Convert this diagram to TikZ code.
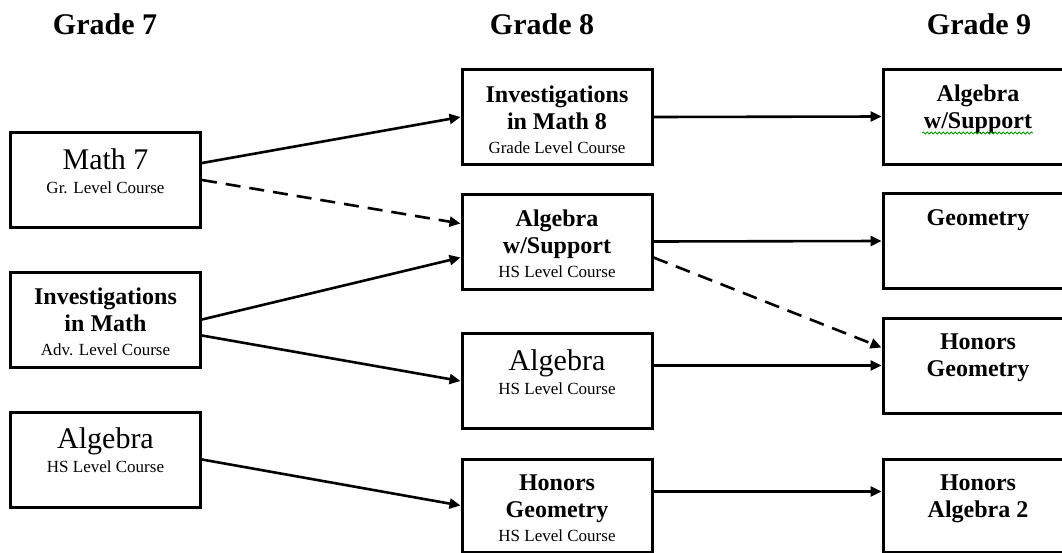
\documentclass[tikz,border=0pt]{standalone}
\usepackage{fontspec}
\setmainfont{Liberation Serif}
\usepackage{tikz}
\usetikzlibrary{arrows.meta,decorations.pathmorphing}
\tikzset{>={Triangle[length=11pt,width=10pt]}}
\tikzset{course/.style={draw,line width=3pt,inner sep=0pt},
  link/.style={->,line width=2.6pt},
  maybe/.style={link,dash pattern=on 15pt off 9pt},
  grade/.style={anchor=base,font=\fontsize{30}{30}\selectfont\bfseries}}
% box text: fixed size, text at the top
\newcommand{\crsbox}[2][95]{\parbox[c][#1pt][t]{190pt}{\centering\vspace*{16pt}#2}}
\newcommand{\bname}[1]{{\fontsize{24}{27}\selectfont\bfseries #1\par}}
\newcommand{\rname}[1]{{\fontsize{30}{30}\selectfont #1\par}}
\newcommand{\lvl}[1]{{\fontsize{17}{24}\selectfont #1\par}}

\begin{document}
\begin{tikzpicture}[x=1pt,y=-1pt]
\useasboundingbox (0,0) rectangle (1062,552);
\clip (0,0) rectangle (1062,552);

\node[grade] (g7) at (105,34) {Grade 7};
\node[grade] (g8) at (542,34) {Grade 8};
\node[grade] (g9) at (979,34) {Grade 9};

% grade 7
\node[course] (m7) at (105.5,180) {\crsbox{\rname{Math 7}\lvl{Gr. Level Course}}};
\node[course] (inv) at (105.5,319.5) {\crsbox{\bname{Investigations\\in Math}\lvl{Adv. Level Course}}};
\node[course] (algl) at (105.5,459.5) {\crsbox{\rname{Algebra}\lvl{HS Level Course}}};

% grade 8
\node[course] (inv8) at (557,117) {\crsbox{\bname{Investigations\\in Math 8}\lvl{Grade Level Course}}};
\node[course] (aws) at (557,241.5) {\crsbox{\bname{Algebra\\w/Support}\lvl{HS Level Course}}};
\node[course] (alg) at (557,381) {\crsbox{\rname{Algebra}\lvl{HS Level Course}}};
\node[course] (hg) at (557,505.5) {\crsbox[93]{\bname{Honors\\Geometry}\lvl{HS Level Course}}};

% grade 9
\node[course] (aws9) at (978,116.5) {\crsbox{\bname{Algebra\\w/Support}}};
\node[course] (geo) at (978,241) {\crsbox{\bname{Geometry}}};
\node[course] (hgeo) at (978,365.5) {\crsbox{\bname{Honors\\Geometry}}};
\node[course] (ha2) at (978,505.5) {\crsbox[93]{\bname{Honors\\Algebra 2}}};

\draw[green!60!black,line width=0.8pt,decorate,decoration={snake,amplitude=1pt,segment length=4pt}]
  ([xshift=-56pt,yshift=-16.5pt]aws9.center) -- ([xshift=55pt,yshift=-16.5pt]aws9.center);

% paths
\draw[link] ([yshift=17pt]m7.east) -- (inv8.west);
\draw[maybe] (m7.east) -- ([yshift=18pt]aws.west);
\draw[link] (inv.east) -- ([yshift=-16pt]aws.west);
\draw[link] ([yshift=-16pt]inv.east) -- (alg.west);
\draw[link] (algl.east) -- (hg.west);

\draw[link] (inv8.east) -- (aws9.west);
\draw[link] (aws.east) -- (geo.west);
\draw[maybe] ([yshift=-16pt]aws.east) -- ([yshift=18pt]hgeo.west);
\draw[link] (alg.east |- hgeo.west) -- (hgeo.west);
\draw[link] ([yshift=14pt]hg.east) -- ([yshift=14pt]ha2.west);
\end{tikzpicture}
\end{document}
